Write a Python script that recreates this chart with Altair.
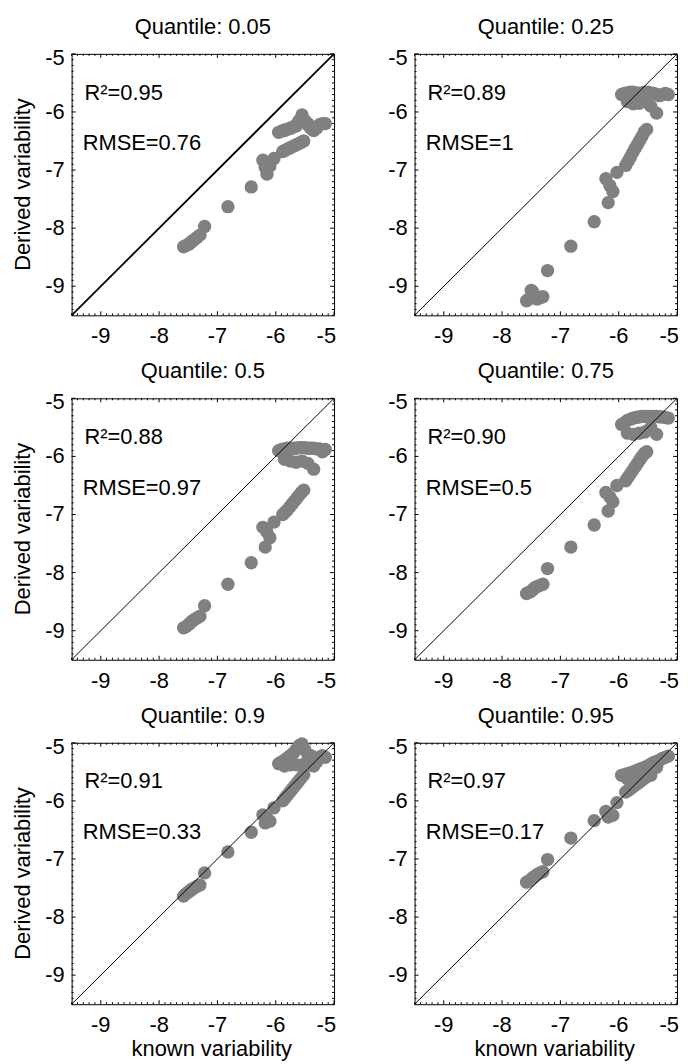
import altair as alt
import pandas as pd

FONT = "Liberation Sans"
FS = 22

quantiles = ["0.05", "0.25", "0.5", "0.75", "0.9", "0.95"]
r2_labels = ["R²=0.95", "R²=0.89", "R²=0.88", "R²=0.90", "R²=0.91", "R²=0.97"]
rmse_labels = ["RMSE=0.76", "RMSE=1", "RMSE=0.97", "RMSE=0.5", "RMSE=0.33", "RMSE=0.17"]
x_title = "known variability"
y_title = "Derived variability"

# tick positions and labels
major_ticks = [-9, -8, -7, -6, -5]
major_labels = ["-9", "-8", "-7", "-6", "-5"]
minor_ticks = [round(-9.5 + 0.1 * i, 1) for i in range(46) if (i - 5) % 10 != 0]

# known variability (shared x values)
known = [
    -7.58, -7.54, -7.5, -7.47, -7.44, -7.4, -7.35, -7.3,
    -7.22, -6.82, -6.42,
    -6.22, -6.18, -6.15, -6.1, -6.03,
    -5.88, -5.84, -5.8, -5.76, -5.72, -5.68, -5.64, -5.6, -5.56, -5.52,
    -5.95, -5.9, -5.85, -5.8, -5.75, -5.7, -5.65, -5.6, -5.55, -5.5, -5.45, -5.4, -5.35, -5.3, -5.25, -5.2, -5.15,
    -5.85, -5.75, -5.65, -5.55, -5.45, -5.35,
]

derived_q005 = [
    -8.32, -8.3, -8.28, -8.26, -8.23, -8.2, -8.16, -8.12,
    -7.97, -7.63, -7.29,
    -6.83, -6.95, -7.07, -6.93, -6.8,
    -6.68, -6.66, -6.64, -6.62, -6.6, -6.58, -6.56, -6.54, -6.52, -6.5,
    -6.35, -6.33, -6.31, -6.3, -6.28, -6.26, -6.24, -6.15, -6.05, -6.15, -6.22, -6.28, -6.32, -6.28, -6.22, -6.2, -6.2,
    -6.32, -6.28, -6.22, -6.1, -6.2, -6.3,
]
derived_q025 = [
    -9.25, -9.22, -9.07, -9.1, -9.2, -9.22, -9.2, -9.18,
    -8.73, -8.31, -7.89,
    -7.15, -7.56, -7.27, -7.37, -7.04,
    -6.92, -6.85, -6.78, -6.7, -6.63, -6.56, -6.49, -6.42, -6.34, -6.3,
    -5.7, -5.68, -5.67, -5.66, -5.66, -5.67, -5.68, -5.67, -5.66, -5.66, -5.67, -5.68, -5.7, -5.72, -5.7, -5.68, -5.7,
    -5.82, -5.86, -5.85, -5.82, -5.9, -6.02,
]
derived_q050 = [
    -8.95, -8.93, -8.9, -8.87, -8.84, -8.81, -8.78, -8.75,
    -8.57, -8.2, -7.83,
    -7.22, -7.56, -7.3, -7.4, -7.13,
    -7.0, -6.96, -6.92, -6.87, -6.82, -6.77, -6.72, -6.67, -6.62, -6.58,
    -5.9, -5.88, -5.87, -5.86, -5.86, -5.86, -5.86, -5.85, -5.85, -5.85, -5.86, -5.86, -5.86, -5.87, -5.87, -5.92, -5.88,
    -6.05, -6.08, -6.1, -6.08, -6.12, -6.22,
]
derived_q075 = [
    -8.36, -8.34, -8.32, -8.29, -8.26, -8.24, -8.22, -8.2,
    -7.93, -7.56, -7.18,
    -6.62, -6.94, -6.7, -6.78, -6.5,
    -6.42, -6.36, -6.3, -6.24, -6.18, -6.12, -6.06, -6.0, -5.95, -5.92,
    -5.45, -5.42, -5.38, -5.36, -5.34, -5.33, -5.32, -5.31, -5.31, -5.31, -5.31, -5.31, -5.31, -5.32, -5.32, -5.33, -5.34,
    -5.6, -5.62, -5.6, -5.58, -5.5, -5.62,
]
derived_q090 = [
    -7.64, -7.6, -7.57, -7.55, -7.52, -7.5, -7.47, -7.45,
    -7.24, -6.88, -6.54,
    -6.24, -6.38, -6.3, -6.35, -6.12,
    -6.0, -5.95, -5.9, -5.85, -5.8, -5.75, -5.7, -5.65, -5.6, -5.55,
    -5.36, -5.33, -5.3, -5.26, -5.22, -5.18, -5.12, -5.05, -5.02, -5.12, -5.2, -5.22, -5.25, -5.33, -5.25, -5.22, -5.25,
    -5.4, -5.38, -5.38, -5.38, -5.32, -5.4,
]
derived_q095 = [
    -7.4, -7.38, -7.35, -7.32, -7.3, -7.27, -7.24, -7.22,
    -7.01, -6.64, -6.34,
    -6.18, -6.28, -6.22, -6.25, -6.03,
    -5.85, -5.82, -5.79, -5.76, -5.73, -5.7, -5.67, -5.64, -5.61, -5.58,
    -5.56, -5.55, -5.53, -5.52, -5.5, -5.48, -5.46, -5.44, -5.42, -5.4, -5.37, -5.34, -5.32, -5.3, -5.27, -5.25, -5.23,
    -5.62, -5.58, -5.54, -5.52, -5.56, -5.42,
]
derived_all = [derived_q005, derived_q025, derived_q050, derived_q075, derived_q090, derived_q095]

domain = [-9.5, -5]
W, H = 264, 263
MAJ, MIN = 4, 2


def sc():
    return alt.Scale(domain=domain, nice=False, zero=False)


def X(field="v"):
    return alt.X(f"{field}:Q", scale=sc(), axis=None)


def Y(field="v"):
    return alt.Y(f"{field}:Q", scale=sc(), axis=None)


def txt(**kw):
    base = dict(font=FONT, fontSize=FS, color="black")
    base.update(kw)
    return base


def panel(i):
    left = i % 2 == 0
    bottom = i >= 4
    pts = pd.DataFrame({"known": known, "derived": derived_all[i]})
    diag = pd.DataFrame({"known": domain, "derived": domain})
    notes = pd.DataFrame({
        "known": [-9.28, -9.31],
        "derived": [-5.786, -6.658],
        "label": [r2_labels[i], rmse_labels[i]],
    })
    majd = pd.DataFrame({"v": major_ticks, "lab": major_labels})
    mind = pd.DataFrame({"v": minor_ticks})
    lab_inner = majd.iloc[:-1]
    lab_end = majd.iloc[-1:]

    layers = []
    # inward tick marks on all four sides (dash pattern leaves only both ends)
    layers.append(alt.Chart(majd).mark_rule(color="black", strokeWidth=1, strokeDash=[MAJ, H - 2 * MAJ, MAJ, 0])
                  .encode(x=X(), y=alt.value(0), y2=alt.value(H)))
    layers.append(alt.Chart(mind).mark_rule(color="black", strokeWidth=1, strokeDash=[MIN, H - 2 * MIN, MIN, 0])
                  .encode(x=X(), y=alt.value(0), y2=alt.value(H)))
    layers.append(alt.Chart(majd).mark_rule(color="black", strokeWidth=1, strokeDash=[MAJ, W - 2 * MAJ, MAJ, 0])
                  .encode(y=Y(), x=alt.value(0), x2=alt.value(W)))
    layers.append(alt.Chart(mind).mark_rule(color="black", strokeWidth=1, strokeDash=[MIN, W - 2 * MIN, MIN, 0])
                  .encode(y=Y(), x=alt.value(0), x2=alt.value(W)))

    # data
    layers.append(alt.Chart(pts).mark_circle(size=180, color="#808080", opacity=1)
                  .encode(x=X("known"), y=Y("derived")))
    layers.append(alt.Chart(diag).mark_line(color="black", strokeWidth=1.8 if i == 0 else 1)
                  .encode(x=X("known"), y=Y("derived")))
    layers.append(alt.Chart(notes).mark_text(**txt(align="left", baseline="alphabetic"))
                  .encode(x=X("known"), y=Y("derived"), text="label:N"))

    # x tick labels
    layers.append(alt.Chart(lab_inner).mark_text(**txt(align="center", baseline="alphabetic"))
                  .encode(x=X(), y=alt.value(H + 28), text="lab:N"))
    layers.append(alt.Chart(lab_end).mark_text(**txt(align="right", baseline="alphabetic", dx=2))
                  .encode(x=X(), y=alt.value(H + 28), text="lab:N"))
    # y tick labels
    layers.append(alt.Chart(lab_inner).mark_text(**txt(align="right", baseline="middle"))
                  .encode(y=Y(), x=alt.value(-7), text="lab:N"))
    layers.append(alt.Chart(lab_end).mark_text(**txt(align="right", baseline="alphabetic", dy=11))
                  .encode(y=Y(), x=alt.value(-7), text="lab:N"))

    # panel title
    layers.append(alt.Chart(pd.DataFrame({"t": [f"Quantile: {quantiles[i]}"]}))
                  .mark_text(**txt(align="center", baseline="alphabetic"))
                  .encode(x=alt.value(W / 2), y=alt.value(-20), text="t:N"))
    if left:
        layers.append(alt.Chart(pd.DataFrame({"t": [y_title]}))
                      .mark_text(**txt(align="center", baseline="alphabetic", angle=270))
                      .encode(x=alt.value(-42), y=alt.value(H / 2), text="t:N"))
    if bottom:
        layers.append(alt.Chart(pd.DataFrame({"t": [x_title]}))
                      .mark_text(**txt(align="center", baseline="alphabetic"))
                      .encode(x=alt.value(W / 2 + 9), y=alt.value(H + 52), text="t:N"))

    return alt.layer(*layers).properties(width=W, height=H)


chart = alt.concat(
    *[panel(i) for i in range(6)], columns=2,
    spacing={"row": 83.5, "column": 81}, bounds="flush",
).properties(
    padding={"left": 3, "top": 4, "right": 0, "bottom": 0}
).configure_view(stroke="black", strokeWidth=1)

chart.save("out.html", embed_options={"renderer": "svg", "actions": False})
